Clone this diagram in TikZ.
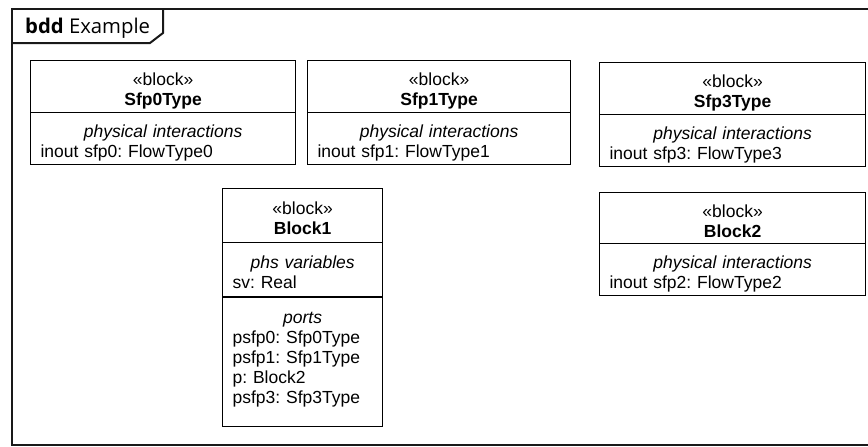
\documentclass[tikz,border=0pt]{standalone}
\usepackage{fontspec}
\setmainfont{Liberation Sans}
\newfontfamily\framefont{Open Sans}
\usetikzlibrary{shapes.multipart}
\newcommand*\lnstrut{\rule[-3pt]{0pt}{24pt}}
\newcommand*\blockhead[1]{\makebox[\linewidth]{\lnstrut«block»}\\\makebox[\linewidth]{\lnstrut\bfseries #1}}
\newcommand*\comptitle[1]{\makebox[\linewidth]{\lnstrut\itshape #1}}

\begin{document}
\begin{tikzpicture}[x=1pt,y=-1pt]
	\tikzstyle{block}=[rectangle split,rectangle split parts=2,draw,line width=1.2pt,anchor=north west,inner xsep=10pt,inner ysep=3pt,align=left,font={\fontsize{17.5}{20}\selectfont\lineskiplimit=-100pt\frenchspacing}];
	\tikzstyle{frame}=[draw=black!90,line width=2pt];
	\useasboundingbox(0,0)rectangle(868,447);
	% diagram frame and its tab
	\draw[frame](12,9)rectangle(880,445);
	\draw[frame](12,43)--(150,43)--(163,33)--(163,9);
	\node[anchor=base west,inner sep=0pt,font=\framefont\fontsize{20.3}{23}\selectfont](title)at(25,34){\textbf{bdd} Example};
	% flow types
	\node[block,text width=245pt](sfp0)at(30,60){\blockhead{Sfp0Type}\nodepart{two}\comptitle{physical interactions}\\\lnstrut inout sfp0: FlowType0};
	\node[block,text width=243pt](sfp1)at(307,60){\blockhead{Sfp1Type}\nodepart{two}\comptitle{physical interactions}\\\lnstrut inout sfp1: FlowType1};
	\node[block,text width=246pt](sfp3)at(599,62){\blockhead{Sfp3Type}\nodepart{two}\comptitle{physical interactions}\\\lnstrut inout sfp3: FlowType3};
	% blocks
	\node[block,rectangle split parts=3,inner ysep=4.5pt,text width=140pt](block1)at(222,188){\blockhead{Block1}
		\nodepart{two}\comptitle{phs variables}\\\lnstrut sv: Real
		\nodepart{three}\comptitle{ports}\\\lnstrut psfp0: Sfp0Type\\\lnstrut psfp1: Sfp1Type\\\lnstrut p: Block2\\\lnstrut psfp3: Sfp3Type\rule[-18pt]{0pt}{0pt}};
	\node[block,text width=246pt](block2)at(599,192){\blockhead{Block2}\nodepart{two}\comptitle{physical interactions}\\\lnstrut inout sfp2: FlowType2};
\end{tikzpicture}
\end{document}
